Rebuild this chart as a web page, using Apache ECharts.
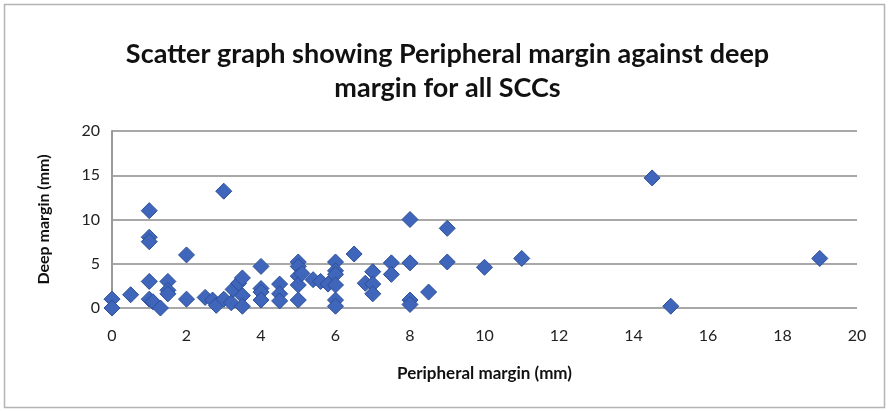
<!DOCTYPE html>
<html>
<head>
<meta charset="utf-8">
<script src="https://cdn.jsdelivr.net/npm/echarts@6/dist/echarts.min.js"></script>
<style>
html, body { margin: 0; padding: 0; background: #fff; }
#main { width: 895px; height: 411px; }
</style>
</head>
<body>
<div id="main"></div>
<script>
// peripheral margin (mm) and deep margin (mm)
var peripheral = [0, 0, 0.5, 1, 1, 1, 1, 1, 1.1, 1.3, 1.5, 1.5, 1.5, 2, 2, 2.5, 2.7, 2.8, 3, 3, 3.2, 3.25, 3.4, 3.5, 3.5, 3.5,
    4, 4, 4, 4, 4.5, 4.5, 4.5, 5, 5, 5, 5, 5, 5.1, 5.4, 5.6, 5.8, 6, 6, 6, 6, 6, 6, 6.5, 6.8, 7, 7, 7, 7.5, 7.5,
    8, 8, 8, 8, 8.5, 9, 9, 10, 11, 14.5, 15, 19];
var deep = [1, 0, 1.5, 11, 8, 7.5, 3, 1, 0.7, 0, 3, 2, 1.6, 6, 1, 1.2, 0.9, 0.3, 13.2, 1, 0.6, 2.1, 2.8, 3.4, 1.4, 0.2,
    4.7, 2.2, 1.8, 0.9, 2.7, 1.6, 0.8, 5.2, 4.7, 3.6, 2.6, 0.9, 3.9, 3.2, 3.0, 2.7, 5.2, 4.2, 3.8, 2.6, 0.9, 0.2, 6.1, 2.8, 4.1, 2.7, 1.6, 5.1, 3.8,
    10, 5.1, 0.9, 0.4, 1.8, 9, 5.2, 4.6, 5.6, 14.7, 0.2, 5.6];
var xTicks = [0, 20, 2];
var yTicks = [0, 20, 5];

var points = [];
for (var i = 0; i < peripheral.length; i++) {
    points.push([peripheral[i], deep[i]]);
}

var myChart = echarts.init(document.getElementById('main'));
var option = {
    backgroundColor: '#fff',
    graphic: [{
        type: 'rect',
        shape: { x: 4.5, y: 4.5, width: 880, height: 403 },
        style: { fill: 'none', stroke: '#b4b4b4', lineWidth: 1.5 },
        silent: true
    }],
    title: {
        text: 'Scatter graph showing Peripheral margin against deep\nmargin for all SCCs',
        left: 'center',
        top: 32,
        textStyle: {
            fontFamily: 'Lato',
            fontWeight: 'bold',
            fontSize: 27,
            lineHeight: 34,
            color: '#111'
        }
    },
    grid: { left: 112, right: 38, top: 131, bottom: 103 },
    xAxis: {
        type: 'value',
        min: xTicks[0], max: xTicks[1], interval: xTicks[2],
        name: 'Peripheral margin (mm)',
        nameLocation: 'middle',
        nameGap: 57,
        nameTextStyle: { fontFamily: 'Lato', fontWeight: 'bold', fontSize: 17, color: '#111' },
        axisLine: { show: false },
        axisTick: { show: false },
        splitLine: { show: false },
        axisLabel: { fontFamily: 'Lato', fontSize: 16, color: '#222', margin: 20 }
    },
    yAxis: {
        type: 'value',
        min: yTicks[0], max: yTicks[1], interval: yTicks[2],
        name: 'Deep margin (mm)',
        nameLocation: 'middle',
        nameGap: 60,
        nameTextStyle: { fontFamily: 'Lato', fontWeight: 'bold', fontSize: 16, color: '#111' },
        axisLine: { show: true, lineStyle: { color: '#9a9a9a', width: 2 } },
        axisTick: { show: false },
        splitLine: { show: true, lineStyle: { color: '#a8a8a8', width: 2 } },
        axisLabel: { fontFamily: 'Lato', fontSize: 16, color: '#222', margin: 12 }
    },
    series: [{
        type: 'scatter',
        symbol: 'diamond',
        symbolSize: 16,
        data: points,
        itemStyle: { color: '#3f66ba', borderColor: '#2d4f98', borderWidth: 1, opacity: 1 }
    }]
};
myChart.setOption(option);
</script>
</body>
</html>
